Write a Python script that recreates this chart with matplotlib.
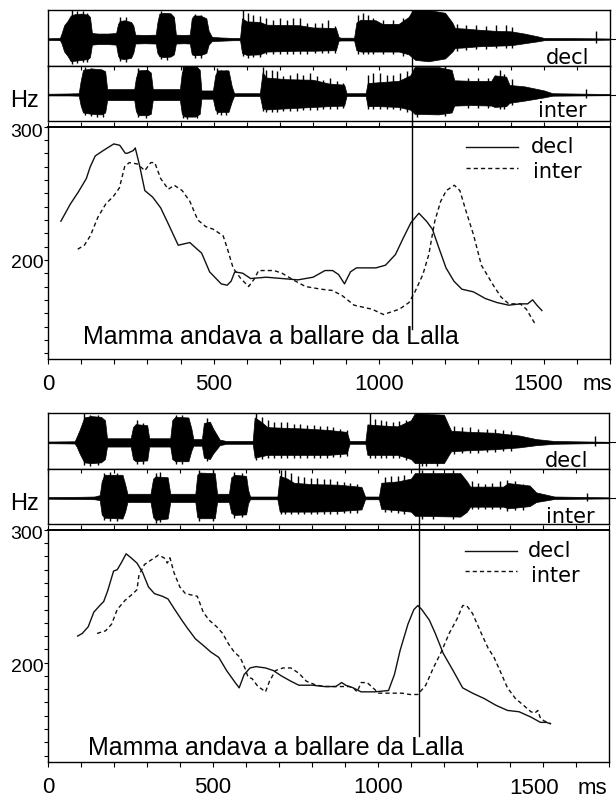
import numpy as np
import matplotlib.pyplot as plt
from matplotlib.ticker import MultipleLocator

plt.rcParams['font.family'] = ['Liberation Sans', 'DejaVu Sans']

W, H = 616, 798

# ---- pitch tracks, panel 1 (ms, Hz)
p1_decl_ms = [38, 67, 91, 115, 127, 142, 166, 198, 216, 233, 239, 257, 263, 275, 292, 316, 340, 363,
              393, 428, 464, 488, 523, 541, 553, 564, 588, 612, 659, 707, 755, 801, 837, 860, 878,
              896, 914, 932, 991, 1020, 1050, 1073, 1097, 1121, 1144, 1162, 1180, 1203, 1227, 1251,
              1286, 1322, 1357, 1393, 1428, 1450, 1465, 1478, 1493]
p1_decl_hz = [229, 242, 251, 261, 270, 278, 282, 287, 286, 280, 280, 282, 284, 272, 252, 247, 239, 227,
              211, 213, 205, 191, 182, 181, 184, 191, 190, 186, 187, 186, 185, 187, 192, 192, 189,
              182, 191, 194, 194, 196, 204, 216, 228, 235, 229, 223, 210, 194, 184, 178,
              176, 171, 168, 166, 167, 167, 170, 166, 162]
p1_inter_ms = [89, 109, 127, 150, 174, 198, 215, 231, 245, 269, 292, 310, 322, 340, 363, 381, 405, 428,
               452, 476, 499, 529, 541, 559, 582, 606, 624, 636, 683, 707, 748, 778, 825, 860, 890,
               925, 979, 1014, 1038, 1062, 1091, 1109, 1133, 1151, 1169, 1187, 1204, 1228, 1245,
               1263, 1286, 1310, 1346, 1370, 1393, 1428, 1446, 1470, 1480]
p1_inter_hz = [208, 211, 218, 232, 242, 248, 254, 270, 273, 272, 267, 273, 273, 261, 253, 256, 252, 244,
               230, 225, 223, 218, 209, 194, 186, 180, 186, 192, 192, 190, 184, 180, 178, 177, 173,
               166, 163, 159, 161, 163, 168, 176, 189, 204, 229, 244, 252, 256, 252,
               237, 219, 196, 181, 172, 167, 167, 163, 153, 152]

# ---- pitch tracks, panel 2 (ms, Hz)
p2_decl_ms = [89, 103, 121, 138, 156, 168, 180, 198, 209, 221, 236, 251, 269, 286, 304, 322, 346, 363,
              381, 405, 422, 446, 470, 493, 517, 541, 564, 579, 594, 612, 630, 659, 683, 707, 736,
              760, 801, 837, 872, 890, 902, 925, 949, 991, 1032, 1050, 1067, 1091, 1109, 1121, 1133,
              1156, 1174, 1198, 1228, 1257, 1287, 1322, 1357, 1393, 1428, 1464, 1493, 1511, 1523]
p2_decl_hz = [220, 222, 227, 238, 243, 246, 254, 269, 270, 275, 282, 279, 275, 268, 257, 252, 250, 248,
              241, 232, 226, 218, 213, 208, 204, 194, 186, 181, 191, 196, 197, 196, 194, 190, 186,
              183, 183, 182, 182, 185, 183, 181, 178, 178, 179, 191, 209, 229, 240, 243, 240,
              232, 222, 207, 194, 181, 177, 173, 168, 164, 163, 159, 155, 155, 154]
p2_inter_ms = [148, 174, 192, 209, 233, 257, 269, 275, 292, 316, 334, 351, 361, 369, 381, 399, 416, 434,
               452, 470, 488, 511, 529, 547, 564, 582, 598, 606, 618, 636, 648, 659, 671, 689, 712,
               736, 760, 783, 813, 843, 872, 896, 913, 925, 937, 949, 967, 985, 1002, 1038, 1073,
               1097, 1121, 1145, 1168, 1192, 1216, 1240, 1257, 1269, 1287, 1310, 1334, 1352, 1370,
               1393, 1417, 1441, 1464, 1476, 1485, 1493, 1505, 1525]
p2_inter_hz = [222, 224, 229, 240, 247, 252, 255, 266, 274, 278, 281, 279, 275, 279, 268, 257, 252, 251,
               250, 238, 232, 227, 222, 214, 208, 204, 195, 189, 188, 182, 180, 178, 186, 194, 196,
               196, 192, 186, 183, 182, 182, 182, 182, 181, 178, 185, 185, 181, 177, 177, 177,
               176, 176, 183, 196, 208, 222, 233, 243, 243, 237, 224, 211, 204, 194,
               181, 173, 168, 163, 162, 164, 158, 156, 154]

# ---- waveform envelopes (ms, upper, lower), amplitude relative to box half-height
p1_decl_env = [(0, .03, -.03), (35, .04, -.04), (40, .2, -.15), (48, .5, -.45), (58, .65, -.6),
               (68, .85, -.8), (80, .9, -.78), (100, .92, -.75), (120, .88, -.72), (126, .8, -.65),
               (132, .22, -.2), (150, .2, -.18), (180, .2, -.18), (205, .22, -.2), (211, .55, -.6),
               (216, .65, -.7), (230, .68, -.72), (250, .62, -.68), (257, .5, -.5), (263, .16, -.16),
               (290, .15, -.15), (325, .16, -.16), (330, .6, -.5), (336, .92, -.62), (350, .95, -.65),
               (370, .93, -.63), (380, .8, -.55), (386, .16, -.16), (410, .15, -.15), (428, .16, -.16),
               (434, .75, -.55), (440, .85, -.58), (460, .85, -.58), (478, .75, -.5), (485, .3, -.2),
               (495, .08, -.07), (520, .06, -.06), (560, .04, -.04), (580, .04, -.04), (586, .75, -.5),
               (600, .64, -.57), (640, .62, -.55), (660, .52, -.45), (760, .5, -.42), (800, .42, -.42),
               (870, .4, -.4), (878, .08, -.06), (884, .05, -.05), (925, .05, -.05), (932, .6, -.4),
               (945, .7, -.45), (990, .68, -.45), (1010, .55, -.45), (1060, .55, -.45),
               (1090, .8, -.55), (1100, 1.0, -.65), (1110, 1.05, -.75), (1150, 1.05, -.8),
               (1200, .95, -.7), (1222, .6, -.45), (1230, .4, -.32), (1260, .38, -.3), (1300, .34, -.26),
               (1350, .3, -.24), (1400, .28, -.22), (1440, .2, -.15), (1480, .1, -.08), (1500, .04, -.04),
               (1640, .03, -.03), (1700, .02, -.02)]
p1_decl_spikes = [(72, 1.05), (86, 1.0), (104, 1.0), (118, .95), (217, .8), (235, .78), (342, 1.0),
                  (360, .95), (444, .9), (461, .88), (590, 1.05), (605, .94), (620, .88), (640, .82),
                  (660, .76), (681, .7), (701, .76), (721, .7), (741, .76), (761, .76), (782, .58),
                  (807, .58), (827, .58), (847, .7), (867, .46), (938, .88), (953, .94), (968, .88),
                  (983, .76), (1013, .7), (1044, .7), (1074, .76), (1235, .55), (1265, .5),
                  (1295, .5), (1325, .48), (1354, .5), (1384, .5), (1402, .45), (1658, .3)]

p1_inter_env = [(0, .03, -.03), (60, .04, -.03), (92, .05, -.04), (98, .5, -.4), (105, .9, -.65),
                (130, .95, -.7), (160, .92, -.72), (172, .85, -.65), (178, .2, -.2), (220, .2, -.2),
                (260, .2, -.2), (265, .6, -.6), (272, .88, -.75), (300, .9, -.75), (310, .8, -.7),
                (316, .2, -.2), (360, .2, -.2), (398, .2, -.2), (404, .8, -.7), (412, 1.05, -.8),
                (445, 1.05, -.8), (458, .9, -.7), (463, .15, -.15), (498, .15, -.15), (505, .7, -.55),
                (512, .88, -.63), (545, .88, -.63), (555, .3, -.25), (562, .05, -.05), (640, .05, -.05),
                (648, .8, -.5), (660, .62, -.54), (720, .56, -.5), (800, .54, -.45), (850, .4, -.42),
                (895, .36, -.4), (902, .05, -.05), (960, .05, -.05), (966, .42, -.42),
                (1000, .45, -.42), (1060, .5, -.45), (1095, .7, -.55), (1108, 1.0, -.7),
                (1180, 1.0, -.72), (1220, .9, -.65), (1228, .52, -.4), (1280, .5, -.38), (1340, .5, -.4),
                (1350, .7, -.45), (1385, .65, -.42), (1395, .35, -.3), (1440, .3, -.22), (1500, .15, -.1),
                (1525, .05, -.04), (1700, .02, -.02)]
p1_inter_spikes = [(110, 1.0), (128, .95), (146, .9), (164, .85), (271, .95), (295, .9), (408, 1.05),
                   (420, 1.05), (450, 1.0), (509, .95), (523, .9), (539, .9), (650, 1.02), (660, .9),
                   (676, .9), (691, .84), (711, .66), (731, .72), (751, .78), (771, .72), (792, .78),
                   (812, .66), (832, .54), (852, .6), (872, .48), (892, .42), (968, .72), (983, .78),
                   (1003, .78), (1024, .72), (1044, .72), (1064, .78), (1084, .84), (1115, 1.05),
                   (1200, 1.05), (1271, .6), (1301, .6), (1331, .62), (1366, .9), (1378, .75), (1402, .55),
                   (1628, .22)]

p2_decl_env = [(0, .03, -.03), (80, .04, -.04), (86, .2, -.15), (95, .45, -.4), (109, .9, -.72),
               (130, .95, -.75), (160, .92, -.72), (172, .8, -.6), (178, .15, -.15), (250, .15, -.15),
               (257, .55, -.6), (265, .66, -.68), (300, .62, -.65), (306, .15, -.15), (370, .15, -.15),
               (376, .8, -.6), (385, .92, -.68), (425, .9, -.68), (434, .5, -.3), (440, .12, -.12),
               (466, .12, -.12), (472, .7, -.55), (490, .75, -.6), (500, .5, -.4), (520, .1, -.1),
               (540, .05, -.05), (620, .05, -.05), (626, .9, -.55), (645, .75, -.5), (665, .55, -.45),
               (780, .5, -.45), (850, .45, -.45), (905, .38, -.4), (914, .05, -.05),
               (962, .05, -.05), (968, .65, -.45), (1000, .62, -.45), (1060, .58, -.45), (1100, .8, -.6),
               (1112, 1.05, -.75), (1200, 1.0, -.75), (1215, .6, -.45), (1222, .42, -.32),
               (1280, .38, -.28), (1350, .35, -.25), (1428, .25, -.18), (1480, .12, -.1),
               (1535, .05, -.05), (1700, .02, -.02)]
p2_decl_spikes = [(109, 1.05), (127, 1.0), (150, 1.0), (269, .8), (286, .7), (387, 1.0), (405, 1.0),
                  (482, .88), (630, 1.05), (647, .9), (665, .8), (685, .75), (705, .72), (725, .72),
                  (745, .68), (765, .65), (785, .62), (805, .62), (825, .6), (845, .58), (865, .55),
                  (885, .5), (905, .45), (976, 1.05), (991, .85), (1008, .8), (1025, .78), (1045, .75),
                  (1065, .78), (1085, .8), (1133, 1.05), (1145, 1.05), (1180, 1.0), (1230, .6),
                  (1255, .55), (1280, .55), (1305, .5), (1330, .5), (1355, .5), (1380, .45), (1405, .4),
                  (1659, .23)]

p2_inter_env = [(0, .03, -.03), (100, .04, -.04), (140, .05, -.05), (156, .1, -.08), (162, .6, -.6),
                (170, .84, -.72), (225, .84, -.75), (233, .5, -.5), (240, .15, -.15), (310, .15, -.15),
                (318, .7, -.7), (325, .78, -.8), (362, .75, -.75), (370, .15, -.15), (446, .15, -.15),
                (452, .85, -.7), (460, .92, -.74), (505, .9, -.74), (512, .15, -.15), (548, .15, -.15),
                (555, .75, -.55), (565, .84, -.62), (600, .8, -.6), (606, .3, -.2), (612, .05, -.05),
                (695, .05, -.05), (702, .8, -.5), (725, .7, -.5), (745, .55, -.5), (800, .5, -.5),
                (880, .48, -.48), (950, .4, -.42), (961, .05, -.05), (1003, .05, -.05), (1010, .55, -.4),
                (1060, .6, -.45), (1100, .7, -.5), (1112, .9, -.65), (1250, .9, -.68), (1270, .6, -.5),
                (1280, .41, -.32), (1380, .41, -.32), (1395, .54, -.38), (1460, .45, -.3),
                (1480, .2, -.15), (1535, .05, -.04), (1700, .02, -.02)]
p2_inter_spikes = [(168, .9), (186, .95), (209, .9), (328, .9), (340, .95), (458, 1.0), (499, 1.0),
                   (564, .95), (588, .9), (707, 1.0), (718, 1.0), (736, .9), (756, .8), (776, .75),
                   (796, .72), (816, .72), (836, .7), (856, .68), (876, .62), (896, .58), (916, .55),
                   (936, .5), (1020, .75), (1040, .78), (1060, .8), (1080, .82), (1133, 1.0),
                   (1168, 1.0), (1228, 1.0), (1285, .6), (1305, .55), (1325, .52), (1345, .55),
                   (1370, .62), (1393, .65), (1417, .6), (1440, .5), (1635, .17)]

sentence = 'Mamma andava a ballare da Lalla'
cursor_ms = [1100, 1124]
cursor_end_hz = [148, 144.6]

fig = plt.figure(figsize=(W / 100, H / 100), dpi=100)


def px_axes(x0, x1, y0, y1):
    return fig.add_axes([x0 / W, 1 - y1 / H, (x1 - x0) / W, (y1 - y0) / H])


def style_box(ax, top_ticks):
    ax.set_xlim(0, 1700)
    ax.set_ylim(-0.96, 1.05)
    ax.set_yticks([])
    if top_ticks:
        ax.xaxis.set_major_locator(MultipleLocator(100))
        ax.tick_params(axis='x', top=True, bottom=False, direction='in', length=3,
                       width=0.8, labelbottom=False)
    else:
        ax.set_xticks([])
    for s in ax.spines.values():
        s.set_linewidth(1.0)


def draw_wave(ax, env, spikes):
    t, hi, lo = (np.array(v) for v in zip(*env))
    ax.fill_between(t, lo, hi, color='black', lw=0.5)
    st, sh = (np.array(v) for v in zip(*spikes))
    ax.vlines(st, np.interp(st, t, lo) - 0.1, sh, color='black', lw=1.0)
    ax.plot([0, 1718], [0, 0], color='black', lw=0.8, clip_on=False)


def draw_panel(y_top, x_right, waves, tracks, ylow, cursor, cur_end, lbl):
    b1 = px_axes(48.3, x_right, y_top, y_top + 55.7)
    b2 = px_axes(48.3, x_right, y_top + 55.7, y_top + 111)
    pa = px_axes(48.3, x_right, y_top + 116.6, y_top + 348.5)

    style_box(b1, False)
    style_box(b2, True)
    draw_wave(b1, *waves[0])
    draw_wave(b2, *waves[1])
    b1.text(lbl['decl'][0], lbl['decl'][1], 'decl', transform=b1.transAxes,
            family='DejaVu Sans', fontsize=15, va='baseline')
    b2.text(lbl['inter'][0], lbl['inter'][1], 'inter', transform=b2.transAxes,
            family='DejaVu Sans', fontsize=15, va='baseline')

    (dm, dh), (im, ih) = tracks
    pa.plot(dm, dh, color='#111111', lw=1.0)
    pa.plot(im, ih, color='#111111', lw=1.0, linestyle=(0, (3, 2.2)))
    pa.set_xlim(0, 1700)
    pa.set_ylim(ylow, 300)
    pa.xaxis.set_major_locator(MultipleLocator(100))
    pa.yaxis.set_major_locator(MultipleLocator(10))
    pa.tick_params(axis='x', top=True, bottom=True, direction='out', length=3.5,
                   width=0.8, labelbottom=False)
    pa.tick_params(axis='y', direction='out', length=3, width=0.8, labelleft=False)
    for s in pa.spines.values():
        s.set_linewidth(1.0)
    pa.spines['top'].set_linewidth(1.4)

    # cursor through the three boxes
    for ax in (b1, b2):
        ax.axvline(cursor, color='black', lw=1.0)
    pa.plot([cursor, cursor], [cur_end, 304.5], color='black', lw=1.0, clip_on=False)

    # legend
    leg = lbl['legend']
    pa.plot([0.744, 0.836], [leg[0], leg[0]], transform=pa.transAxes, color='#111111', lw=1.0)
    pa.plot([0.744, 0.836], [leg[1], leg[1]], transform=pa.transAxes, color='#111111', lw=1.0,
            linestyle=(0, (3, 2.2)))
    pa.text(leg[2], leg[3], 'decl', transform=pa.transAxes, family='DejaVu Sans',
            fontsize=15, va='baseline')
    pa.text(leg[4], leg[5], 'inter', transform=pa.transAxes, family='DejaVu Sans',
            fontsize=15, va='baseline')

    pa.text(lbl['sent'][0], lbl['sent'][1], sentence, fontsize=18, va='baseline')

    # tick labels
    xt = pa.get_xaxis_transform()
    for v, s in zip([0, 500, 1000], ['0', '500', '1000']):
        pa.annotate(s, xy=(v, 0), xycoords=xt, xytext=(0, -31), textcoords='offset pixels',
                    ha='center', va='baseline', fontsize=16)
    pa.annotate('1500', xy=(1500, 0), xycoords=xt, xytext=(lbl['x1500'], -lbl['xms_dy']),
                textcoords='offset pixels', ha='center', va='baseline', fontsize=16)
    pa.annotate('ms', xy=(1700, 0), xycoords=xt, xytext=(lbl['ms_dx'], -lbl['xms_dy']),
                textcoords='offset pixels', ha='center', va='baseline', fontsize=16)
    yt = pa.get_yaxis_transform()
    for v, dy in zip([200, 300], lbl['ydy']):
        pa.annotate(str(v), xy=(0, v), xycoords=yt, xytext=(-5, -dy),
                    textcoords='offset pixels', ha='right', va='baseline', fontsize=14)
    fig.text(25 / W, 1 - lbl['hz_y'] / H, 'Hz', fontsize=17, ha='center', va='center')


draw_panel(10, 610.3,
           [(p1_decl_env, p1_decl_spikes), (p1_inter_env, p1_inter_spikes)],
           [(p1_decl_ms, p1_decl_hz), (p1_inter_ms, p1_inter_hz)],
           126, cursor_ms[0], cursor_end_hz[0],
           {'decl': (0.886, 0.03), 'inter': (0.871, 0.073),
            'legend': (0.913, 0.82, 0.859, 0.887, 0.862, 0.777),
            'sent': (104, 137), 'x1500': -6, 'xms_dy': 31, 'ms_dx': -13,
            'ydy': (7.8, 10.8), 'hz_y': 101})

draw_panel(413.3, 608.7,
           [(p2_decl_env, p2_decl_spikes), (p2_inter_env, p2_inter_spikes)],
           [(p2_decl_ms, p2_decl_hz), (p2_inter_ms, p2_inter_hz)],
           125.3, cursor_ms[1], cursor_end_hz[1],
           {'decl': (0.887, 0.041), 'inter': (0.888, 0.03),
            'legend': (0.909, 0.823, 0.855, 0.881, 0.861, 0.775),
            'sent': (121, 130.1), 'x1500': -9, 'xms_dy': 32, 'ms_dx': -16,
            'ydy': (9.7, 9.3), 'hz_y': 504})

fig.savefig('out.png', dpi=100)
